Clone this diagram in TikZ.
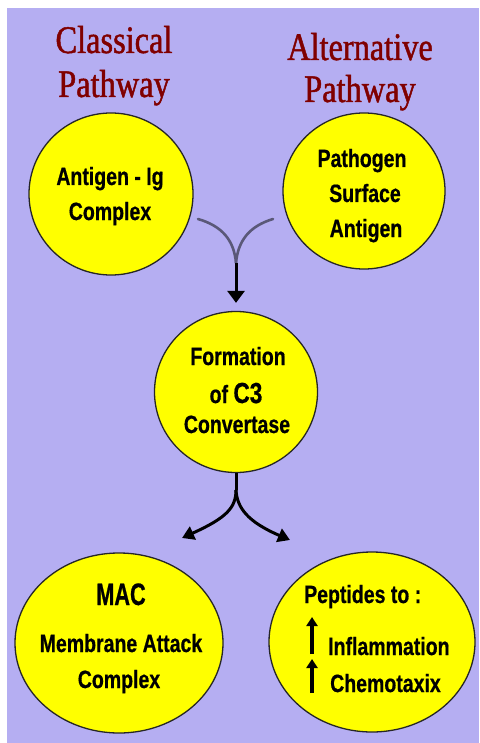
\documentclass[tikz,border=0pt]{standalone}
\usepackage{fontspec}
\usetikzlibrary{arrows.meta,shapes.geometric}
\newfontfamily\titlefont[FakeStretch=0.83,FakeBold=1.2]{Liberation Serif}
\newfontfamily\boxfont[FakeStretch=0.78,FakeBold=0.6]{Liberation Sans}
\newfontfamily\bigboxfont[FakeStretch=0.7,FakeBold=0.6]{Liberation Sans}
\definecolor{bgl}{RGB}{181,174,242}
\definecolor{ttl}{RGB}{128,0,0}
\definecolor{bub}{RGB}{255,255,0}
\definecolor{lnk}{RGB}{90,88,120}
\tikzset{
  bubble/.style={shape=ellipse, draw=black!85, line width=1.3pt, fill=bub, inner sep=0pt},
  titletext/.style={text=ttl, font=\titlefont\fontsize{39}{44}\selectfont, inner sep=0pt, anchor=base},
  btext/.style={font=\boxfont\bfseries\fontsize{25}{30}\selectfont, inner sep=0pt, anchor=base},
  bigtext/.style={font=\bigboxfont\bfseries\fontsize{31}{34}\selectfont, inner sep=0pt, anchor=base},
  graylink/.style={draw=lnk, line width=2.6pt, line cap=round},
  blacklink/.style={draw=black, line width=3pt},
  bigtip/.style={-{Triangle[length=12pt,width=17pt]}},
  smalltip/.style={-{Triangle[length=12pt,width=14pt]}},
  uptip/.style={line width=3.2pt,-{Triangle[length=9pt,width=11pt]}}
}
\begin{document}
\begin{tikzpicture}[x=1pt,y=-1pt]
\useasboundingbox (0,0) rectangle (479,743);
\fill[white] (0,0) rectangle (479,743);
\fill[bgl] (7,8) rectangle (479,743);

% titles
\node[titletext] (t1a) at (114,53) {Classical};
\node[titletext] (t1b) at (114,97) {Pathway};
\node[titletext] (t2a) at (360,60) {Alternative};
\node[titletext] (t2b) at (360,102) {Pathway};

% bubbles
\node[bubble, minimum width=164pt, minimum height=162pt] (ag) at (111,194) {};
\node[bubble, minimum width=162pt, minimum height=156pt] (ps) at (364,191) {};
\node[bubble, minimum width=163pt, minimum height=161pt] (c3) at (236,392) {};
\node[bubble, minimum width=208pt, minimum height=180pt] (mac) at (119,643) {};
\node[bubble, minimum width=206pt, minimum height=180pt] (pep) at (372,642) {};

% bubble texts
\node[btext] (ag1) at (110,185) {Antigen - Ig};
\node[btext] (ag2) at (110,220) {Complex};
\node[btext] (ps1) at (362,167) {Pathogen};
\node[btext] (ps2) at (365,202) {Surface};
\node[btext] (ps3) at (366,237) {Antigen};
\node[btext] (c31) at (238,365) {Formation};
\node[btext] (c32) at (236,403) {of {\fontsize{29}{30}\selectfont C3}};
\node[btext] (c33) at (237,433) {Convertase};
\node[bigtext] (mac1) at (121,605) {MAC};
\node[btext] (mac2) at (121,652) {Membrane Attack};
\node[btext] (mac3) at (119,688) {Complex};
\node[btext, anchor=base west] (pep1) at (304,603) {Peptides to :};
\node[btext, anchor=base west] (pep2) at (328,655) {Inflammation};
\node[btext, anchor=base west] (pep3) at (330,692) {Chemotaxix};
\draw[uptip] (312,654) -- (312,617);
\draw[uptip] (312,693) -- (312,659);

% top connectors
\coordinate (s1) at (198,219);
\coordinate (s2) at (273,219);
\coordinate (j1) at (236,263);
\draw[graylink] (s1) .. controls (222,226) and (234,240) .. (j1);
\draw[graylink] (s2) .. controls (250,226) and (238,240) .. (j1);
\draw[blacklink, bigtip, shorten >=8pt] (j1) -- (c3.north);

% bottom connectors
\coordinate (j2) at (236,490);
\coordinate (e1) at (182,538);
\coordinate (e2) at (290,540);
\draw[blacklink] (c3.south) -- (j2);
\draw[blacklink, smalltip] (j2) .. controls (236,508) and (226,518) .. (e1);
\draw[blacklink, smalltip] (j2) .. controls (237,508) and (248,522) .. (e2);
\end{tikzpicture}
\end{document}
